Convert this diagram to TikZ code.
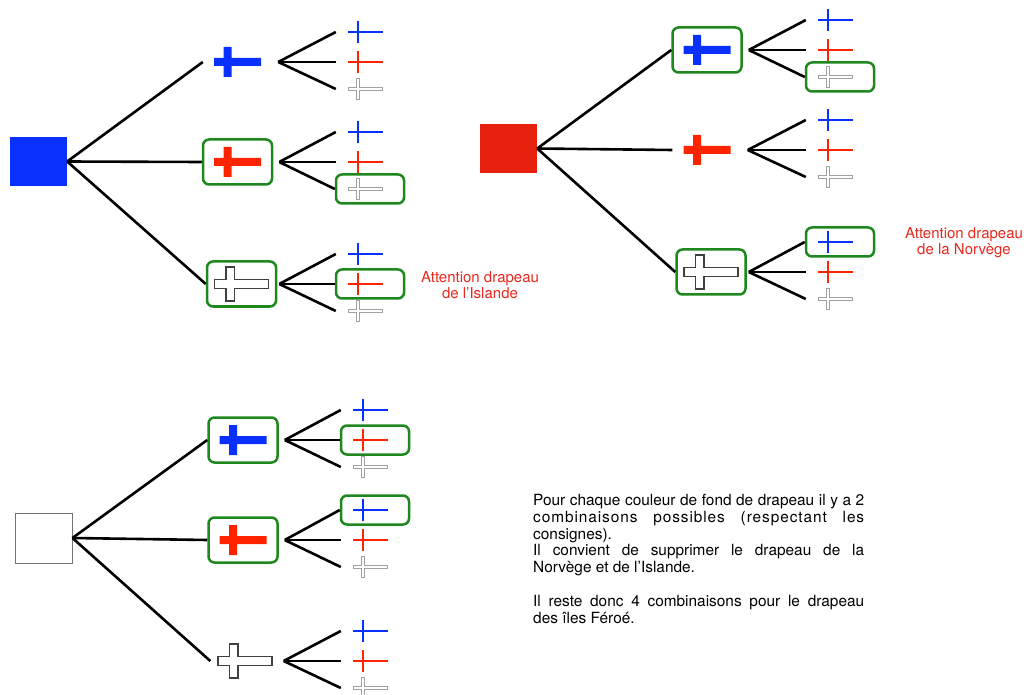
\documentclass[tikz,border=0pt]{standalone}
\usepackage{fontspec}
\setmainfont{TeX Gyre Heros}
\setlength\parindent{0pt}
\hbadness=10000
\definecolor{fblue}{RGB}{10,48,255}
\definecolor{rootred}{RGB}{232,32,14}
\definecolor{fred}{RGB}{255,36,0}
\definecolor{fgreen}{RGB}{30,135,30}
\definecolor{fgrey}{RGB}{160,160,160}
\definecolor{tred}{RGB}{232,40,30}
\newcommand\fatX[2]{\fill[#2, shift={(#1.center)}] (-23.5,-4) rectangle (23.5,4) (-14,-15) rectangle (-6,15);}
\newcommand\hollowX[1]{\draw[line width=1.2pt, draw=black!75, fill=white, shift={(#1.center)}]
   (-27,-4.5) -- (-15.5,-4.5) -- (-15.5,-17) -- (-7,-17) -- (-7,-4.5) -- (27,-4.5)
   -- (27,4.5) -- (-7,4.5) -- (-7,17) -- (-15.5,17) -- (-15.5,4.5) -- (-27,4.5) -- cycle;}
\newcommand\thinX[2]{\draw[#2, line width=2pt, shift={(#1.center)}] (-22,0) -- (13,0) (-12,-11) -- (-12,11);}
\newcommand\greyX[1]{\draw[fgrey, line width=4pt, shift={(#1.center)}] (-22,0) -- (13,0) (-12,-11) -- (-12,11);
   \draw[white, line width=2pt, shift={(#1.center)}] (-21,0) -- (12,0) (-12,-10) -- (-12,10);}
\begin{document}
\begin{tikzpicture}[x=1pt,y=-1pt,
  branch/.style={line width=2.6pt, black},
  rootsq/.style={rectangle, inner sep=0pt, minimum width=57pt, minimum height=49pt},
  lvl/.style={rectangle, inner sep=0pt, minimum width=69pt, minimum height=45pt, rounded corners=6pt},
  lf/.style={rectangle, inner sep=0pt, minimum width=68pt, minimum height=29pt, rounded corners=6pt},
  hl/.style={draw=fgreen, line width=2.5pt},
  lbl/.style={text=tred, font=\fontsize{15}{16}\selectfont, align=center, inner sep=0pt}
]
\useasboundingbox (0,0) rectangle (1026,695);

% ---------- Tree 1 (blue) ----------
\node[rootsq, fill=fblue] (r1) at (38.5,161.5) {};
\node[lvl] (a1) at (237.5,62) {};
\node[lvl, hl] (a2) at (237.5,162) {};
\node[lvl, hl] (a3) at (241.5,284) {};
\coordinate (a1o) at ([xshift=6pt]a1.east);
\coordinate (a2o) at ([xshift=6pt]a2.east);
\coordinate (a3o) at ([xshift=2pt]a3.east);
\node[lf] (a1b) at (370,32) {};
\node[lf] (a1r) at (370,62) {};
\node[lf] (a1w) at (370,89) {};
\node[lf] (a2b) at (370,132) {};
\node[lf] (a2r) at (370,162) {};
\node[lf, hl] (a2w) at (370,189) {};
\node[lf] (a3b) at (370,254) {};
\node[lf, hl] (a3r) at (370,284) {};
\node[lf] (a3w) at (370,311) {};
\fatX{a1}{fblue} \fatX{a2}{fred} \hollowX{a3}

% ---------- Tree 2 (red) ----------
\node[rootsq, fill=rootred] (r2) at (508.5,148.5) {};
\node[lvl, hl] (b1) at (707,50) {};
\node[lvl] (b2) at (707,150) {};
\node[lvl, hl] (b3) at (711,272) {};
\coordinate (b1o) at ([xshift=6pt]b1.east);
\coordinate (b2o) at ([xshift=6pt]b2.east);
\coordinate (b3o) at ([xshift=2pt]b3.east);
\node[lf] (b1b) at (840,20) {};
\node[lf] (b1r) at (840,50) {};
\node[lf, hl] (b1w) at (840,77) {};
\node[lf] (b2b) at (840,120) {};
\node[lf] (b2r) at (840,150) {};
\node[lf] (b2w) at (840,177) {};
\node[lf, hl] (b3b) at (840,242) {};
\node[lf] (b3r) at (840,272) {};
\node[lf] (b3w) at (840,299) {};
\fatX{b1}{fblue} \fatX{b2}{fred} \hollowX{b3}

% ---------- Tree 3 (white) ----------
\node[rootsq, minimum height=50pt, draw=black!55, line width=0.9pt, fill=white] (r3) at (43.5,538) {};
\node[lvl, hl] (c1) at (243,440) {};
\node[lvl, hl] (c2) at (243,540) {};
\node[lvl] (c3) at (245,661) {};
\coordinate (c1o) at ([xshift=6pt]c1.east);
\coordinate (c2o) at ([xshift=6pt]c2.east);
\coordinate (c3o) at ([xshift=4pt]c3.east);
\node[lf] (c1b) at (375,410) {};
\node[lf, hl] (c1r) at (375,440) {};
\node[lf] (c1w) at (375,467) {};
\node[lf, hl] (c2b) at (375,510) {};
\node[lf] (c2r) at (375,540) {};
\node[lf] (c2w) at (375,567) {};
\node[lf] (c3b) at (375,631) {};
\node[lf] (c3r) at (375,661) {};
\node[lf] (c3w) at (375,688) {};
\fatX{c1}{fblue} \fatX{c2}{fred} \hollowX{c3}

% ---------- leaf crosses ----------
\foreach \n in {a1,a2,a3,b1,b2,b3,c1,c2,c3} {
  \thinX{\n b}{fblue}
  \thinX{\n r}{fred}
  \greyX{\n w}
}

% ---------- connectors ----------
\foreach \n in {a1,a2,a3} \draw[branch] (r1.east) -- (\n.west);
\foreach \n in {b1,b2,b3} \draw[branch] (r2.east) -- (\n.west);
\foreach \n in {c1,c2,c3} \draw[branch] (r3.east) -- (\n.west);
\foreach \n in {a1,a2,a3,b1,b2,b3,c1,c2,c3} {
  \draw[branch] (\n o) -- (\n b.west);
  \draw[branch] (\n o) -- (\n r.west);
  \draw[branch] (\n o) -- (\n w.west);
}

% ---------- Texts ----------
\node[lbl] (isl) at (480,285.5) {Attention drapeau\\de l’Islande};
\node[lbl] (nor) at (964,243) {Attention drapeau\\de la Norvège};
\node[anchor=north west, inner sep=0pt, text width=331pt, align=justify,
      font=\fontsize{15.4}{16.8}\selectfont] (expl) at (533,494)
 {Pour chaque couleur de fond de drapeau il y a 2\linebreak
  {\addfontfeature{LetterSpace=6}combinaisons possibles (respectant les}\linebreak
  consignes).\newline
  Il convient de supprimer le drapeau de la\linebreak
  Norvège et de l’Islande.\par\vspace{16.8pt}
  Il reste donc 4 combinaisons pour le drapeau\linebreak
  des îles Féroé.};
\end{tikzpicture}
\end{document}
